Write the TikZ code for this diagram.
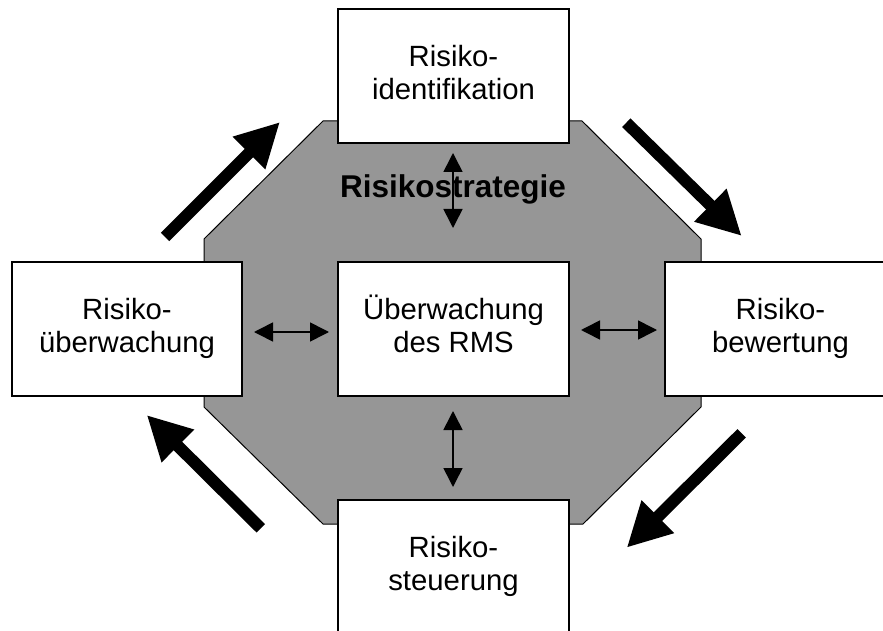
\documentclass[tikz,border=0pt]{standalone}
\usepackage{fontspec}
\setmainfont{Liberation Sans}
\usetikzlibrary{arrows.meta}

\begin{document}
\begin{tikzpicture}[x=1pt,y=-1pt,
  stagebox/.style={draw=black, line width=1.8pt, fill=white, rectangle,
    minimum width=231pt, minimum height=134pt, inner sep=0pt, align=center,
    font=\fontsize{29.3}{33}\selectfont},
  core/.style={draw=black, line width=1pt, fill=corefill},
  cycle arrow/.style={line width=12pt, line cap=butt,
    -{Triangle[length=44pt,width=43pt]}},
  link arrow/.style={line width=1.6pt,
    {Triangle[length=19pt,width=19pt]}-{Triangle[length=19pt,width=19pt]}}
]
\definecolor{corefill}{RGB}{150,150,150}
\useasboundingbox (0,0) rectangle (883,631);
\clip (0,0) rectangle (883,631);

% grey octagon behind everything
\draw[core] (323,121) -- (582,121) -- (701,239) -- (701,407) -- (583,524)
  -- (323,524) -- (204,407) -- (204,239) -- cycle;

% the five stages
\node[stagebox] (id)  at (453.5,76)  {Risiko-\strut\\identifikation\strut};
\node[stagebox, minimum width=230pt] (ue) at (127,329) {Risiko-\strut\\überwachung\strut};
\node[stagebox] (rms) at (453.5,329) {Überwachung\strut\\des RMS\strut};
\node[stagebox] (bw)  at (780.5,329) {Risiko-\strut\\bewertung\strut};
\node[stagebox] (st)  at (453.5,567) {Risiko-\strut\\steuerung\strut};

% strategy label
\node[font=\fontsize{31.5}{35}\selectfont\bfseries, anchor=base, inner sep=0pt]
  (strat) at (453,198) {Risikostrategie};

% end points of the links to the centre
\coordinate (v1a) at (453,153); \coordinate (v1b) at (453,228);
\coordinate (h1a) at (254,332); \coordinate (h1b) at (329,332);
\coordinate (h2a) at (581,330); \coordinate (h2b) at (657,330);
\coordinate (v2a) at (453,411); \coordinate (v2b) at (453,487);

\draw[link arrow] (v1a) -- (v1b);
\draw[link arrow] (h1a) -- (h1b);
\draw[link arrow] (h2a) -- (h2b);
\draw[link arrow] (v2a) -- (v2b);

% cycle arrows between the stages
\coordinate (c1s) at (165,237);     \coordinate (c1e) at (280,122);
\coordinate (c2s) at (626.3,122.7); \coordinate (c2e) at (741.7,236);
\coordinate (c3s) at (741.7,433.3); \coordinate (c3e) at (626.7,547.7);
\coordinate (c4s) at (260.8,528.3); \coordinate (c4e) at (146.7,415);

\draw[cycle arrow] (c1s) -- (c1e);
\draw[cycle arrow] (c2s) -- (c2e);
\draw[cycle arrow] (c3s) -- (c3e);
\draw[cycle arrow] (c4s) -- (c4e);
\end{tikzpicture}
\end{document}
